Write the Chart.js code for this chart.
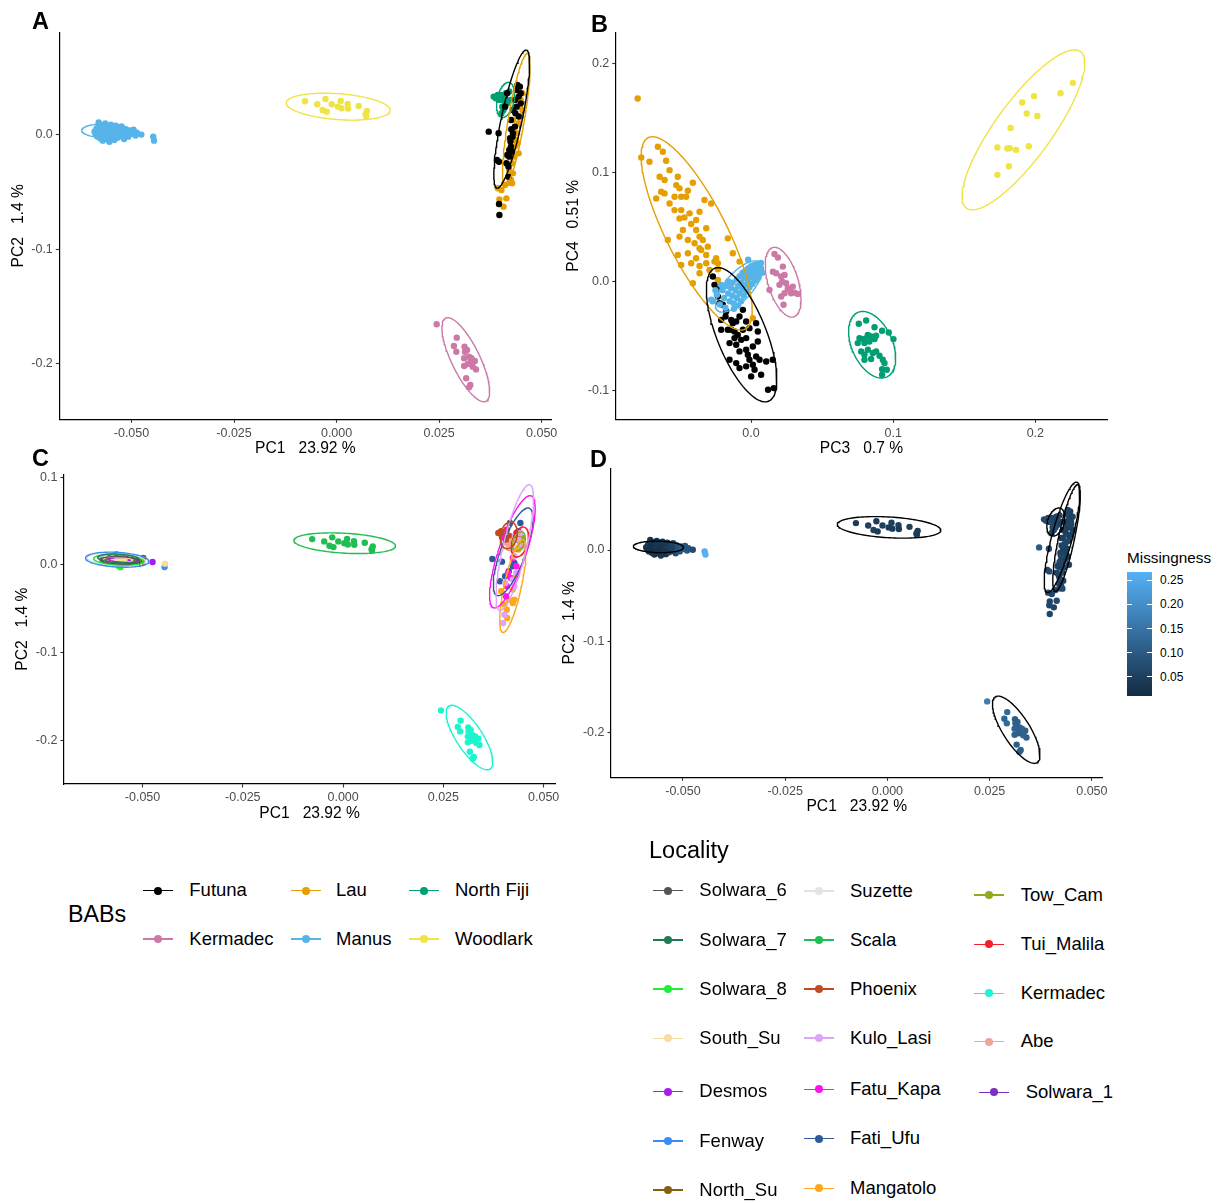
<!DOCTYPE html>
<html>
<head>
<meta charset="utf-8">
<title>PCA by basin and locality</title>
<script src="https://cdn.jsdelivr.net/npm/chart.js@4.4.1/dist/chart.umd.min.js"></script>
<style>
  body { margin: 0; background: #fff; }
  #fig { position: relative; width: 1226px; height: 1203px; font-family: "Liberation Sans", Arial, sans-serif; color: #000; overflow: hidden; }
  #fig canvas { position: absolute; }
  .tag { position: absolute; font-size: 23.5px; font-weight: bold; line-height: 1; }
  .txt { position: absolute; line-height: 1; white-space: pre; }
  .key { position: absolute; width: 30px; height: 0; }
  .key .ln { position: absolute; left: 0; top: -0.75px; width: 30px; height: 1.5px; }
  .key .pt { position: absolute; left: 11px; top: -4px; width: 8px; height: 8px; border-radius: 50%; }
  .cbtick { position: absolute; width: 5px; height: 1px; background: #fff; }
</style>
</head>
<body>
<div id="fig">
  <canvas id="pcaA" width="600" height="460" style="left:0;top:0"></canvas>
  <canvas id="pcaB" width="600" height="460" style="left:560px;top:0"></canvas>
  <canvas id="pcaC" width="600" height="400" style="left:0;top:440px"></canvas>
  <canvas id="pcaD" width="560" height="400" style="left:560px;top:440px"></canvas>
  <div class="tag" style="left:32px;top:10px">A</div>
  <div class="tag" style="left:591px;top:13px">B</div>
  <div class="tag" style="left:32px;top:447px">C</div>
  <div class="tag" style="left:590px;top:448px">D</div>
</div>

<script>
// ---- basins (BABs) ----
const babNames = ['Futuna', 'Kermadec', 'Lau', 'Manus', 'North Fiji', 'Woodlark'];
const babColours = ['#000000', '#CC79A7', '#E69F00', '#56B4E9', '#009E73', '#F0E442'];

// PC1, PC2, missingness for each sample
const futunaPC12 = [[0.0371,0.0029,0.10],[0.0395,0.0015,0.07],[0.0391,-0.0219,0.06],[0.0396,-0.0234,0.07],[0.0396,-0.0604,0.06],[0.0397,-0.0701,0.06],[0.0419,-0.0365,0.05],[0.0421,-0.0190,0.06],[0.0425,-0.0102,0.05],[0.0423,-0.0029,0.06],[0.0430,0.0015,0.05],[0.0435,0.0073,0.06],[0.0439,0.0248,0.05],[0.0444,0.0336,0.06],[0.0447,0.0423,0.05],[0.0441,0.0438,0.06],[0.0435,0.0307,0.05],[0.0430,0.0219,0.06],[0.0425,0.0131,0.05],[0.0421,-0.0131,0.06],[0.0416,-0.0175,0.05],[0.0428,-0.0146,0.06],[0.0411,0.0248,0.07],[0.0416,0.0365,0.06],[0.0449,0.0365,0.05],[0.0438,0.0394,0.06],[0.0429,-0.0015,0.05],[0.0424,-0.0058,0.06],[0.0419,-0.0277,0.05],[0.0414,-0.0248,0.06],[0.0444,0.0161,0.05],[0.0449,0.0277,0.06],[0.0436,0.0190,0.05],[0.0426,0.0050,0.06]];
const kermadecPC12 = [[0.0244,-0.1658,0.17],[0.0293,-0.1775,0.13],[0.0286,-0.1848,0.12],[0.0292,-0.1898,0.13],[0.0312,-0.1854,0.11],[0.0313,-0.1898,0.12],[0.0318,-0.1883,0.11],[0.0311,-0.1956,0.12],[0.0323,-0.1942,0.11],[0.0327,-0.1985,0.12],[0.0337,-0.1980,0.11],[0.0311,-0.2023,0.12],[0.0340,-0.2053,0.11],[0.0332,-0.2029,0.12],[0.0316,-0.2131,0.11],[0.0326,-0.2190,0.12],[0.0323,-0.2210,0.11],[0.0329,-0.1956,0.12],[0.0320,-0.2006,0.11]];
const lauPC12 = [[0.0393,-0.0467,0.07],[0.0397,-0.0564,0.06],[0.0414,-0.0555,0.07],[0.0407,-0.0628,0.06],[0.0421,-0.0418,0.06],[0.0428,-0.0423,0.07],[0.0430,-0.0336,0.06],[0.0435,-0.0102,0.06],[0.0439,0.0015,0.05],[0.0444,0.0102,0.06],[0.0449,0.0161,0.05],[0.0453,0.0219,0.06],[0.0449,0.0307,0.05],[0.0453,0.0365,0.06],[0.0444,-0.0161,0.06],[0.0428,-0.0248,0.07],[0.0421,-0.0307,0.06],[0.0411,-0.0438,0.07],[0.0402,-0.0482,0.06],[0.0437,-0.0044,0.05],[0.0431,-0.0190,0.06],[0.0441,-0.0073,0.05],[0.0435,0.0073,0.06],[0.0447,0.0248,0.05],[0.0430,0.0131,0.06],[0.0425,-0.0394,0.07]];
const manusPC12 = [[-0.0590,0.0030,0.03],[-0.0588,0.0008,0.02],[-0.0585,0.0060,0.03],[-0.0583,-0.0015,0.02],[-0.0580,0.0110,0.03],[-0.0578,0.0040,0.02],[-0.0576,-0.0030,0.03],[-0.0574,0.0085,0.02],[-0.0572,0.0015,0.01],[-0.0570,-0.0050,0.03],[-0.0568,0.0060,0.02],[-0.0566,0.0000,0.03],[-0.0564,0.0100,0.02],[-0.0562,0.0035,0.03],[-0.0560,-0.0035,0.02],[-0.0558,0.0070,0.03],[-0.0556,0.0010,0.02],[-0.0554,-0.0060,0.03],[-0.0552,0.0050,0.02],[-0.0550,0.0090,0.03],[-0.0548,-0.0020,0.04],[-0.0546,0.0025,0.03],[-0.0544,0.0065,0.04],[-0.0542,-0.0045,0.03],[-0.0540,0.0005,0.04],[-0.0538,0.0080,0.03],[-0.0536,0.0040,0.04],[-0.0534,-0.0025,0.05],[-0.0532,0.0060,0.04],[-0.0530,0.0015,0.05],[-0.0528,-0.0010,0.06],[-0.0526,0.0045,0.05],[-0.0524,0.0075,0.06],[-0.0522,0.0000,0.07],[-0.0520,0.0030,0.06],[-0.0518,-0.0035,0.07],[-0.0515,0.0050,0.08],[-0.0512,0.0015,0.08],[-0.0508,-0.0015,0.09],[-0.0505,0.0040,0.09],[-0.0500,0.0010,0.10],[-0.0495,0.0045,0.09],[-0.0490,-0.0005,0.10],[-0.0487,0.0020,0.09],[-0.0476,0.0003,0.07],[-0.0447,-0.0015,0.26],[-0.0445,-0.0050,0.268],[-0.0571,0.0025,0.02],[-0.0563,0.0055,0.03],[-0.0557,-0.0010,0.02],[-0.0549,0.0035,0.03],[-0.0541,0.0020,0.04],[-0.0535,0.0010,0.04],[-0.0527,0.0025,0.05],[-0.0559,0.0020,0.02],[-0.0567,0.0045,0.03],[-0.0553,0.0068,0.03],[-0.0545,-0.0005,0.03]];
const northFijiPC12 = [[0.0383,0.0336,0.07],[0.0393,0.0336,0.06],[0.0402,0.0350,0.06],[0.0397,0.0307,0.07],[0.0411,0.0321,0.06],[0.0407,0.0219,0.06],[0.0416,0.0277,0.05],[0.0421,0.0380,0.06],[0.0402,0.0190,0.06],[0.0393,0.0350,0.07],[0.0410,0.0292,0.06],[0.0425,0.0307,0.05],[0.0404,0.0248,0.06],[0.0388,0.0321,0.07],[0.0413,0.0365,0.06]];
const woodlarkPC12 = [[-0.0077,0.0295,0.04],[-0.0047,0.0269,0.05],[-0.0027,0.0315,0.04],[-0.0034,0.0219,0.05],[-0.0024,0.0204,0.04],[-0.0012,0.0269,0.05],[0.0003,0.0248,0.04],[0.0010,0.0298,0.05],[0.0012,0.0234,0.04],[0.0027,0.0272,0.05],[0.0028,0.0231,0.04],[0.0054,0.0254,0.05],[0.0074,0.0210,0.04],[0.0072,0.0166,0.05],[0.0071,0.0181,0.04]];

// PC3, PC4
const futunaPC34 = [[-0.0268,0.0046],[-0.0257,-0.0030],[-0.0240,-0.0070],[-0.0198,-0.0213],[-0.0179,-0.0320],[-0.0210,-0.0351],[-0.0139,-0.0351],[-0.0128,-0.0381],[-0.0104,-0.0366],[-0.0081,-0.0320],[-0.0057,-0.0259],[-0.0034,-0.0366],[-0.0210,-0.0442],[-0.0163,-0.0442],[-0.0116,-0.0457],[-0.0093,-0.0488],[-0.0057,-0.0442],[-0.0011,-0.0427],[0.0036,-0.0381],[0.0048,-0.0457],[0.0048,-0.0549],[-0.0151,-0.0564],[-0.0104,-0.0579],[-0.0069,-0.0534],[-0.0034,-0.0518],[-0.0081,-0.0640],[-0.0034,-0.0625],[0.0013,-0.0595],[0.0036,-0.0686],[-0.0011,-0.0716],[-0.0151,-0.0716],[-0.0104,-0.0747],[-0.0081,-0.0793],[-0.0034,-0.0777],[0.0013,-0.0762],[0.0060,-0.0716],[0.0107,-0.0732],[0.0153,-0.0716],[0.0001,-0.0869],[0.0071,-0.0854],[0.0120,-0.0991],[0.0160,-0.0976],[-0.0222,-0.0198],[-0.0175,-0.0274],[-0.0233,-0.0137],[-0.0139,-0.0442],[-0.0116,-0.0518],[-0.0022,-0.0671],[0.0025,-0.0808]];
const kermadecPC34 = [[0.0165,0.0253],[0.0189,0.0220],[0.0224,0.0137],[0.0154,0.0091],[0.0177,0.0076],[0.0212,0.0046],[0.0236,0.0061],[0.0200,-0.0030],[0.0247,-0.0015],[0.0259,-0.0061],[0.0282,-0.0107],[0.0306,-0.0101],[0.0329,-0.0113],[0.0236,-0.0107],[0.0212,-0.0137],[0.0229,-0.0213],[0.0130,-0.0076],[0.0271,-0.0070],[0.0294,-0.0046],[0.0219,0.0000]];
const lauPC34 = [[-0.0797,0.1677],[-0.0772,0.1137],[-0.0714,0.1098],[-0.0655,0.1235],[-0.0620,0.1189],[-0.0643,0.0960],[-0.0597,0.1107],[-0.0573,0.1021],[-0.0667,0.0762],[-0.0632,0.0823],[-0.0608,0.0808],[-0.0515,0.0960],[-0.0526,0.0884],[-0.0503,0.0854],[-0.0456,0.0777],[-0.0538,0.0777],[-0.0491,0.0777],[-0.0444,0.0832],[-0.0409,0.0905],[-0.0573,0.0716],[-0.0538,0.0655],[-0.0491,0.0655],[-0.0468,0.0588],[-0.0432,0.0625],[-0.0503,0.0579],[-0.0362,0.0640],[-0.0327,0.0747],[-0.0280,0.0716],[-0.0421,0.0527],[-0.0386,0.0473],[-0.0315,0.0488],[-0.0362,0.0412],[-0.0503,0.0412],[-0.0444,0.0381],[-0.0397,0.0351],[-0.0339,0.0381],[-0.0585,0.0381],[-0.0304,0.0320],[-0.0362,0.0305],[-0.0515,0.0244],[-0.0444,0.0259],[-0.0386,0.0213],[-0.0315,0.0244],[-0.0245,0.0213],[-0.0163,0.0396],[-0.0128,0.0259],[-0.0491,0.0152],[-0.0421,0.0168],[-0.0362,0.0143],[-0.0315,0.0168],[-0.0257,0.0183],[-0.0409,-0.0015],[-0.0362,0.0076],[-0.0292,0.0107],[-0.0233,0.0168],[-0.0350,0.0290],[-0.0479,0.0473],[-0.0386,0.0564],[-0.0233,0.0015],[-0.0233,0.0113],[0.0013,-0.0335],[-0.0081,0.0183],[-0.0608,0.0930]];
const manusPC34 = [[-0.0270,-0.0180],[-0.0240,-0.0120],[-0.0220,-0.0210],[-0.0200,-0.0080],[-0.0190,-0.0150],[-0.0180,-0.0240],[-0.0170,-0.0040],[-0.0160,-0.0110],[-0.0150,-0.0180],[-0.0140,-0.0060],[-0.0130,-0.0010],[-0.0130,-0.0130],[-0.0120,-0.0200],[-0.0110,-0.0080],[-0.0100,0.0020],[-0.0100,-0.0150],[-0.0090,-0.0040],[-0.0080,0.0050],[-0.0080,-0.0110],[-0.0070,-0.0010],[-0.0060,0.0080],[-0.0060,-0.0070],[-0.0050,0.0030],[-0.0050,-0.0130],[-0.0040,0.0100],[-0.0040,-0.0030],[-0.0030,0.0060],[-0.0030,-0.0090],[-0.0020,0.0120],[-0.0020,0.0010],[-0.0010,0.0080],[-0.0010,-0.0050],[0.0000,0.0140],[0.0000,0.0040],[0.0010,0.0100],[0.0010,-0.0020],[0.0020,0.0150],[0.0020,0.0060],[0.0030,0.0110],[0.0030,0.0010],[0.0040,0.0160],[0.0040,0.0080],[0.0050,0.0130],[0.0050,0.0040],[0.0060,0.0100],[0.0060,0.0150],[0.0070,0.0120],[-0.0210,-0.0030],[-0.0250,-0.0080],[-0.0160,0.0000],[-0.0120,-0.0250],[-0.0090,-0.0220],[-0.0070,-0.0180],[-0.0020,0.0200],[0.0070,0.0170],[0.0080,0.0080],[-0.0280,-0.0165]];
const northFijiPC34 = [[0.0758,-0.0387],[0.0810,-0.0357],[0.0869,-0.0418],[0.0922,-0.0451],[0.0969,-0.0466],[0.1002,-0.0527],[0.0763,-0.0518],[0.0787,-0.0527],[0.0810,-0.0518],[0.0822,-0.0488],[0.0845,-0.0503],[0.0869,-0.0527],[0.0880,-0.0497],[0.0798,-0.0564],[0.0833,-0.0549],[0.0775,-0.0640],[0.0798,-0.0671],[0.0822,-0.0625],[0.0857,-0.0655],[0.0880,-0.0640],[0.0798,-0.0716],[0.0845,-0.0710],[0.0904,-0.0680],[0.0927,-0.0716],[0.0939,-0.0747],[0.0922,-0.0802],[0.0955,-0.0808],[0.0922,-0.0854],[0.0751,-0.0564]];
const woodlarkPC34 = [[0.1733,0.1228],[0.1803,0.1219],[0.1820,0.1222],[0.1864,0.1207],[0.1826,0.1408],[0.1907,0.1641],[0.1991,0.1699],[0.1939,0.1540],[0.2014,0.1518],[0.1954,0.1240],[0.1814,0.1057],[0.1733,0.0978],[0.2177,0.1726],[0.2264,0.1821]];

// 95% ellipses: centre x, centre y, top x, top y, half width through the centre
const babEllipsePC12 = [
  [0.0427, 0.0139, 0.0462, 0.0744, 0.0026],
  [0.0315, -0.1968, 0.0271, -0.1600, 0.0038],
  [0.0438, 0.0131, 0.0465, 0.0715, 0.0020],
  [-0.0560, 0.0034, -0.0566, 0.0097, 0.0061],
  [0.0412, 0.0307, 0.0419, 0.0461, 0.0021],
  [0.0004, 0.0248, -0.0030, 0.0366, 0.0122]
];
const babEllipsePC34 = [
  [-0.0066, -0.0487, -0.0231, 0.0128, 0.0185],
  [0.0226, -0.0006, 0.0165, 0.0314, 0.0110],
  [-0.0382, 0.0441, -0.0693, 0.1327, 0.0236],
  [-0.0085, -0.0045, 0.0030, 0.0190, 0.0120],
  [0.0852, -0.0579, 0.0786, -0.0274, 0.0152],
  [0.1916, 0.1390, 0.2275, 0.2123, 0.0240]
];

// ---- localities ----
const localityNames = ['Solwara_6', 'Solwara_7', 'Solwara_8', 'South_Su', 'Desmos', 'Fenway', 'North_Su',
  'Suzette', 'Scala', 'Phoenix', 'Kulo_Lasi', 'Fatu_Kapa', 'Fati_Ufu', 'Mangatolo',
  'Tow_Cam', 'Tui_Malila', 'Kermadec', 'Abe', 'Solwara_1'];
const localityColours = ['#555555', '#217A55', '#1EF03A', '#F5DEA0', '#A51DF2', '#3C8CF5', '#85600F',
  '#E3E3E3', '#1EBE50', '#C24A20', '#DDA5F5', '#FF14F0', '#2E5A9C', '#FFA81C',
  '#93A823', '#F2202E', '#1EF5CF', '#F4A29C', '#7A30BE'];

const solwara6PC12 = [[-0.0575,0.0050],[-0.0560,0.0030],[-0.0545,0.0060],[-0.0530,0.0040]];
const solwara7PC12 = [[-0.0580,0.0100],[-0.0565,0.0120],[-0.0550,0.0090],[-0.0570,0.0070]];
const solwara8PC12 = [[-0.0585,0.0040],[-0.0560,-0.0010],[-0.0555,-0.0025],[-0.0540,0.0020]];
const southSuPC12 = [[-0.0590,0.0060],[-0.0580,0.0055],[-0.0575,0.0075],[-0.0570,0.0045],[-0.0565,0.0065],[-0.0560,0.0050],[-0.0555,0.0070],[-0.0550,0.0045],[-0.0545,0.0060],[-0.0585,0.0050],[-0.0568,0.0030],[-0.0552,0.0030],[-0.0444,0.0015]];
const desmosPC12 = [[-0.0475,0.0034],[-0.0540,0.0070],[-0.0535,0.0050]];
const fenwayPC12 = [[-0.0445,-0.0023],[-0.0600,0.0060],[-0.0520,0.0030]];
const northSuPC12 = [[-0.0498,0.0080],[-0.0500,0.0023],[-0.0530,0.0060],[-0.0525,0.0030]];
const suzettePC12 = [[-0.0595,0.0070],[-0.0580,0.0030]];
const scalaPC12 = woodlarkPC12;
const phoenixPC12 = [[0.0387,0.0365],[0.0394,0.0384],[0.0402,0.0354],[0.0396,0.0319],[0.0408,0.0403],[0.0406,0.0289],[0.0413,0.0335]];
const kuloLasiPC12 = [[0.0399,-0.0662],[0.0402,-0.0567],[0.0423,-0.0167],[0.0432,-0.0091],[0.0427,0.0099],[0.0437,0.0289],[0.0442,0.0365],[0.0413,0.0251],[0.0423,0.0175],[0.0418,0.0327],[0.0447,0.0213],[0.0404,-0.0205],[0.0427,-0.0243]];
const fatuKapaPC12 = [[0.0411,-0.0091],[0.0418,-0.0148],[0.0408,-0.0243],[0.0423,0.0080],[0.0432,-0.0015],[0.0406,-0.0357]];
const fatiUfuPC12 = [[0.0372,0.0068],[0.0396,0.0038],[0.0391,-0.0186],[0.0423,-0.0015],[0.0427,0.0023],[0.0416,0.0479],[0.0442,0.0479],[0.0432,0.0289],[0.0413,-0.0072],[0.0404,-0.0129],[0.0437,0.0384]];
const mangatoloPC12 = [[0.0413,-0.0395],[0.0423,-0.0433],[0.0408,-0.0510],[0.0409,-0.0605],[0.0427,-0.0395],[0.0402,-0.0452],[0.0394,-0.0300],[0.0437,0.0175],[0.0432,-0.0129],[0.0423,-0.0281]];
const towCamPC12 = [[0.0442,0.0251],[0.0447,0.0308],[0.0437,0.0194]];
const tuiMalilaPC12 = [[0.0437,0.0327],[0.0447,0.0270],[0.0442,0.0213],[0.0432,0.0365]];
const kermadecLocPC12 = kermadecPC12;
const abePC12 = [[0.0408,0.0251],[0.0418,0.0232],[0.0423,0.0289],[0.0413,0.0194]];
const solwara1PC12 = [[-0.0548,0.0040]];

const localityEllipsePC12 = {
  Fenway: [-0.0563, 0.0060, -0.0581, 0.0146, 0.0077],
  Suzette: [-0.0565, 0.0062, -0.0585, 0.0135, 0.0070],
  Solwara_8: [-0.0560, 0.0058, -0.0575, 0.0120, 0.0060],
  Solwara_7: [-0.0560, 0.0075, -0.0572, 0.0125, 0.0050],
  Solwara_6: [-0.0556, 0.0052, -0.0565, 0.0095, 0.0048],
  North_Su: [-0.0545, 0.0050, -0.0555, 0.0090, 0.0045],
  Desmos: [-0.0548, 0.0058, -0.0555, 0.0085, 0.0035],
  South_Su: [-0.0565, 0.0058, -0.0570, 0.0090, 0.0040],
  Scala: babEllipsePC12[5],
  Kermadec: babEllipsePC12[1],
  Kulo_Lasi: [0.0428, 0.0200, 0.0464, 0.0916, 0.0030],
  Fatu_Kapa: [0.0422, 0.0150, 0.0466, 0.0790, 0.0036],
  Fati_Ufu: [0.0424, 0.0150, 0.0461, 0.0650, 0.0033],
  Mangatolo: [0.0423, -0.0240, 0.0447, 0.0289, 0.0022],
  Phoenix: [0.0413, 0.0338, 0.0417, 0.0490, 0.0021],
  Tui_Malila: [0.0441, 0.0262, 0.0449, 0.0433, 0.0020],
  Tow_Cam: [0.0438, 0.0270, 0.0444, 0.0380, 0.0015]
};

// ---- axes ----
const pc1Ticks = [-0.05, -0.025, 0, 0.025, 0.05];
const pc2Ticks = [-0.2, -0.1, 0];
const pc2TicksC = [-0.2, -0.1, 0, 0.1];
const pc3Ticks = [0, 0.1, 0.2];
const pc4Ticks = [-0.1, 0, 0.1, 0.2];
const missTicks = [0.05, 0.10, 0.15, 0.20, 0.25];

const FONT = '"Liberation Sans", Arial, sans-serif';
Chart.defaults.font.family = FONT;

const babPC12 = [futunaPC12, kermadecPC12, lauPC12, manusPC12, northFijiPC12, woodlarkPC12];
const babPC34 = [futunaPC34, kermadecPC34, lauPC34, manusPC34, northFijiPC34, woodlarkPC34];
const localityPC12 = {
  Solwara_6: solwara6PC12, Solwara_7: solwara7PC12, Solwara_8: solwara8PC12, South_Su: southSuPC12,
  Desmos: desmosPC12, Fenway: fenwayPC12, North_Su: northSuPC12, Suzette: suzettePC12, Scala: scalaPC12,
  Phoenix: phoenixPC12, Kulo_Lasi: kuloLasiPC12, Fatu_Kapa: fatuKapaPC12, Fati_Ufu: fatiUfuPC12,
  Mangatolo: mangatoloPC12, Tow_Cam: towCamPC12, Tui_Malila: tuiMalilaPC12, Kermadec: kermadecLocPC12,
  Abe: abePC12, Solwara_1: solwara1PC12
};

function ellipseOutline(e) {
  const [cx, cy, tx, ty, h] = e;
  const pts = [];
  for (let i = 0; i <= 120; i++) {
    const t = i / 120 * 2 * Math.PI;
    pts.push({ x: cx + (tx - cx) * Math.cos(t) + h * Math.sin(t), y: cy + (ty - cy) * Math.cos(t) });
  }
  return pts;
}

function pointSet(rows, colour, order) {
  return {
    data: rows.map(r => ({ x: r[0], y: r[1] })),
    pointBackgroundColor: colour, pointBorderWidth: 0, pointRadius: 3.2, pointHoverRadius: 3.2,
    showLine: false, order: order
  };
}

function ellipseSet(e, colour) {
  return {
    data: ellipseOutline(e), showLine: true, borderColor: colour, borderWidth: 1.4,
    pointRadius: 0, pointHoverRadius: 0, fill: false, tension: 0, order: 0
  };
}

// missingness colour scale (low -> high)
const allMiss = babPC12.flat().map(r => r[2]);
const missLo = Math.min(...allMiss), missHi = Math.max(...allMiss);
const lowRGB = [19, 43, 67], highRGB = [86, 177, 247];
function missColour(v) {
  const t = (v - missLo) / (missHi - missLo);
  const c = lowRGB.map((a, i) => Math.round(a + (highRGB[i] - a) * t));
  return `rgb(${c[0]},${c[1]},${c[2]})`;
}

function makeAxis(range, ticks, digits, title) {
  return {
    type: 'linear', min: range[0], max: range[1],
    afterBuildTicks: s => { s.ticks = ticks.map(v => ({ value: v })); },
    ticks: { callback: v => Number(v).toFixed(digits), color: '#4D4D4D', font: { size: 12.5 }, padding: 3, autoSkip: false, maxRotation: 0 },
    grid: { display: true, drawOnChartArea: false, drawTicks: true, tickLength: 3.5, tickColor: '#333333', tickWidth: 1.1 },
    border: { display: true, color: '#000000', width: 1.2 },
    title: { display: true, text: title, color: '#000000', font: { size: 15.6 } }
  };
}

function drawPanel(id, p) {
  const cv = document.getElementById(id);
  const W = cv.width, H = cv.height;
  const lh = 15.6 * 1.2;
  const x = makeAxis(p.xRange, p.xTicks, p.xDigits, p.xTitle);
  x.afterFit = s => { s.height = H - p.area[3]; };
  x.title.padding = { top: 0, bottom: H - p.xTitleY - lh / 2 };
  const y = makeAxis(p.yRange, p.yTicks, 1, p.yTitle);
  y.afterFit = s => { s.width = p.area[0]; };
  y.title.padding = { top: Math.max(0, p.yTitleX - lh / 2), bottom: 0 };
  return new Chart(cv, {
    type: 'scatter',
    data: { datasets: p.datasets },
    options: {
      responsive: false, animation: false, events: [],
      layout: { padding: { left: 0, top: p.area[1], right: W - p.area[2], bottom: 0 } },
      plugins: { legend: { display: false }, tooltip: { enabled: false } },
      scales: { x: x, y: y }
    }
  });
}

const pc1Title = 'PC1   23.92 %';
const pc2Title = 'PC2   1.4 %';

// A: PC1 vs PC2 by basin
const setsA = [];
babNames.forEach((n, i) => setsA.push(ellipseSet(babEllipsePC12[i], babColours[i])));
const drawOrderA = [2, 3, 4, 1, 5, 6];
babNames.forEach((n, i) => setsA.push(pointSet(babPC12[i], babColours[i], drawOrderA[i])));
drawPanel('pcaA', {
  area: [59.3, 32.3, 551.5, 419.3], xTitleY: 448.3, yTitleX: 18.4,
  xRange: [-0.0676, 0.0524], yRange: [-0.249, 0.0899],
  xTicks: pc1Ticks, xDigits: 3, yTicks: pc2Ticks, xTitle: pc1Title, yTitle: pc2Title,
  datasets: setsA
});

// B: PC3 vs PC4 by basin
const setsB = [];
babNames.forEach((n, i) => setsB.push(ellipseSet(babEllipsePC34[i], babColours[i])));
babNames.forEach((n, i) => setsB.push(pointSet(babPC34[i], babColours[i], drawOrderA[i])));
drawPanel('pcaB', {
  area: [55.8, 32.3, 547, 419.3], xTitleY: 448.3, yTitleX: 14,
  xRange: [-0.0951, 0.2504], yRange: [-0.1262, 0.2284],
  xTicks: pc3Ticks, xDigits: 1, yTicks: pc4Ticks, xTitle: 'PC3   0.7 %', yTitle: 'PC4   0.51 %',
  datasets: setsB
});

// C: PC1 vs PC2 by locality
const setsC = [];
localityNames.forEach((n, i) => {
  if (localityEllipsePC12[n]) setsC.push(ellipseSet(localityEllipsePC12[n], localityColours[i]));
});
const topLocalities = ['South_Su', 'North_Su', 'Desmos', 'Phoenix', 'Abe'];
localityNames.forEach((n, i) => {
  setsC.push(pointSet(localityPC12[n], localityColours[i], topLocalities.includes(n) ? 1 : 2));
});
drawPanel('pcaC', {
  area: [63.9, 34.3, 555.3, 344], xTitleY: 373.3, yTitleX: 22.2,
  xRange: [-0.0696, 0.0529], yRange: [-0.2498, 0.1034],
  xTicks: pc1Ticks, xDigits: 3, yTicks: pc2TicksC, xTitle: pc1Title, yTitle: pc2Title,
  datasets: setsC
});

// D: PC1 vs PC2 coloured by missingness, basin ellipses in black
const setsD = [];
babNames.forEach((n, i) => setsD.push(ellipseSet(babEllipsePC12[i], '#000000')));
babNames.forEach((n, i) => {
  const s = pointSet(babPC12[i], '#000', 1);
  s.pointBackgroundColor = babPC12[i].map(r => missColour(r[2]));
  setsD.push(s);
});
drawPanel('pcaD', {
  area: [51, 28.3, 542.5, 337.3], xTitleY: 366.7, yTitleX: 9.3,
  xRange: [-0.0676, 0.0526], yRange: [-0.2489, 0.0895],
  xTicks: pc1Ticks, xDigits: 3, yTicks: pc2Ticks, xTitle: pc1Title, yTitle: pc2Title,
  datasets: setsD
});

// ---- legends ----
const fig = document.getElementById('fig');
function addText(text, left, midY, size, extra) {
  const d = document.createElement('div');
  d.className = 'txt';
  d.textContent = text;
  d.style.left = left + 'px';
  d.style.top = (midY - size / 2) + 'px';
  d.style.fontSize = size + 'px';
  if (extra) Object.assign(d.style, extra);
  fig.appendChild(d);
  return d;
}
function addKey(colour, left, midY) {
  const k = document.createElement('div');
  k.className = 'key';
  k.style.left = left + 'px';
  k.style.top = midY + 'px';
  k.innerHTML = `<div class="ln" style="background:${colour}"></div><div class="pt" style="background:${colour}"></div>`;
  fig.appendChild(k);
}

// BABs legend, two rows filled by column
addText('BABs', 68, 915, 23.3);
const babKeyX = [142.7, 291, 409], babTextX = [189.3, 336, 455], babRowY = [890.7, 939];
babNames.forEach((n, i) => {
  const col = Math.floor(i / 2), row = i % 2;
  addKey(babColours[i], babKeyX[col], babRowY[row]);
  addText(n, babTextX[col], babRowY[row], 18.5);
});

// Locality legend
addText('Locality', 649, 850.5, 23.5);
const locSlots = [
  [652.7, 699.3, 890.7], [652.7, 699.3, 940], [652.7, 699.3, 989], [652.7, 699.3, 1038.3],
  [652.7, 699.3, 1091.7], [652.7, 699.3, 1141], [652.7, 699.3, 1190],
  [804.3, 850, 891], [804.3, 850, 940], [804.3, 850, 989], [804.3, 850, 1038],
  [804.3, 850, 1089.3], [804.3, 850, 1138.7], [804.3, 850, 1188.3],
  [974.3, 1020.7, 895], [974.3, 1020.7, 944.3], [974.3, 1020.7, 993.3], [974.3, 1020.7, 1041.7],
  [979.3, 1025.7, 1092.3]
];
localityNames.forEach((n, i) => {
  const s = locSlots[i];
  addKey(localityColours[i], s[0], s[2]);
  addText(n, s[1], s[2], 18.5);
});

// Missingness colour bar
addText('Missingness', 1127, 557.5, 15.3);
const bar = { left: 1126.7, top: 571.7, width: 25, height: 124.3 };
const cb = document.createElement('div');
Object.assign(cb.style, {
  position: 'absolute', left: bar.left + 'px', top: bar.top + 'px', width: bar.width + 'px', height: bar.height + 'px',
  background: `linear-gradient(to top, ${missColour(missLo)}, ${missColour(missHi)})`
});
fig.appendChild(cb);
missTicks.forEach(v => {
  const y = bar.top + (missHi - v) / (missHi - missLo) * bar.height;
  [0, bar.width - 5].forEach(dx => {
    const t = document.createElement('div');
    t.className = 'cbtick';
    t.style.left = (bar.left + dx) + 'px';
    t.style.top = (y - 0.5) + 'px';
    fig.appendChild(t);
  });
  addText(v.toFixed(2), 1160, y, 12);
});
</script>
</body>
</html>
